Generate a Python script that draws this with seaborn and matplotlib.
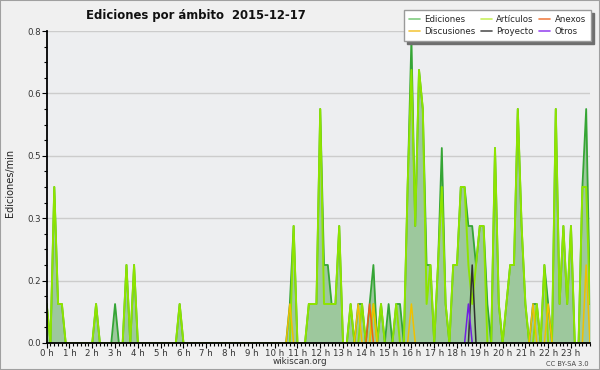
import numpy as np
import pandas as pd
import matplotlib
matplotlib.use('Agg')
import matplotlib.pyplot as plt
import seaborn as sns
from matplotlib.lines import Line2D
from matplotlib.patches import Rectangle

# --- data: edits per minute, 10-minute bins (6 per hour) ---
ediciones = [
    0.1, 0, 0.4, 0.1, 0.1, 0,        # 0 h
    0, 0, 0, 0, 0, 0,                # 1 h
    0, 0.1, 0, 0, 0, 0,              # 2 h
    0.1, 0, 0, 0.2, 0, 0.2,          # 3 h
    0, 0, 0, 0, 0, 0,                # 4 h
    0, 0, 0, 0, 0, 0.1,              # 5 h
    0, 0, 0, 0, 0, 0,                # 6 h
    0, 0, 0, 0, 0, 0,                # 7 h
    0, 0, 0, 0, 0, 0,                # 8 h
    0, 0, 0, 0, 0, 0,                # 9 h
    0, 0, 0, 0, 0.1, 0.3,            # 10 h
    0, 0, 0, 0.1, 0.1, 0.1,          # 11 h
    0.6, 0.2, 0.2, 0.1, 0.1, 0.3,    # 12 h
    0, 0, 0.1, 0, 0.1, 0.1,          # 13 h
    0, 0.1, 0.2, 0, 0.1, 0,          # 14 h
    0.1, 0, 0.1, 0.1, 0, 0.4,        # 15 h
    0.78, 0.3, 0.7, 0.6, 0.2, 0.2,   # 16 h
    0, 0.2, 0.5, 0.1, 0, 0.2,        # 17 h
    0.2, 0.4, 0.4, 0.3, 0.3, 0.2,    # 18 h
    0.3, 0.3, 0.1, 0, 0.5, 0.1,      # 19 h
    0, 0.1, 0.2, 0.2, 0.6, 0.3,      # 20 h
    0.1, 0, 0.1, 0.1, 0, 0.2,        # 21 h
    0.1, 0, 0.6, 0.1, 0.3, 0.1,      # 22 h
    0.3, 0, 0, 0.4, 0.6, 0.1,        # 23 h
]

articulos = [
    0.1, 0, 0.4, 0.1, 0.1, 0,        # 0 h
    0, 0, 0, 0, 0, 0,                # 1 h
    0, 0.1, 0, 0, 0, 0,              # 2 h
    0, 0, 0, 0.2, 0, 0.2,            # 3 h
    0, 0, 0, 0, 0, 0,                # 4 h
    0, 0, 0, 0, 0, 0.1,              # 5 h
    0, 0, 0, 0, 0, 0,                # 6 h
    0, 0, 0, 0, 0, 0,                # 7 h
    0, 0, 0, 0, 0, 0,                # 8 h
    0, 0, 0, 0, 0, 0,                # 9 h
    0, 0, 0, 0, 0, 0.3,              # 10 h
    0, 0, 0, 0.1, 0.1, 0.1,          # 11 h
    0.6, 0.1, 0.1, 0.1, 0.1, 0.3,    # 12 h
    0, 0, 0.1, 0, 0, 0.1,            # 13 h
    0, 0, 0.1, 0, 0.1, 0,            # 14 h
    0, 0, 0.1, 0, 0, 0.4,            # 15 h
    0.7, 0.3, 0.7, 0.6, 0.1, 0.2,    # 16 h
    0, 0.2, 0.4, 0.1, 0, 0.2,        # 17 h
    0.2, 0.4, 0.4, 0.2, 0.1, 0.2,    # 18 h
    0.3, 0.3, 0, 0, 0.5, 0.1,        # 19 h
    0, 0.1, 0.2, 0.2, 0.6, 0.3,      # 20 h
    0.1, 0, 0, 0.1, 0, 0.2,          # 21 h
    0, 0, 0.6, 0.1, 0.3, 0.1,        # 22 h
    0.3, 0, 0, 0.4, 0.4, 0.1,        # 23 h
]

# sparse series: bin index -> value
discusiones_bins = [64, 82, 86, 96, 128, 132, 142]
discusiones_vals = [0.1, 0.1, 0.1, 0.1, 0.1, 0.1, 0.2]
anexos_bins = [85]
anexos_vals = [0.1]
proyecto_bins = [112]
proyecto_vals = [0.2]
otros_bins = [111]
otros_vals = [0.1]

hour_labels = [f"{h} h" for h in range(24)]
ytick_labels = ["0.0", "0.2", "0.3", "0.5", "0.6", "0.8"]

legend_names = ["Ediciones", "Discusiones", "Artículos", "Proyecto", "Anexos", "Otros"]
legend_colors = ["#80cc80", "#f5c842", "#c8f060", "#555555", "#f08048", "#9a4cf0"]

# --- build frame ---
n_bins = len(ediciones)
df = pd.DataFrame({
    "hora": np.arange(n_bins) / 6,
    "ediciones": ediciones,
    "articulos": articulos,
})


def sparse_series(bins, vals):
    s = pd.Series(0.0, index=range(n_bins))
    s[bins] = vals
    keep = (s > 0) | (s.shift(1, fill_value=0) > 0) | (s.shift(-1, fill_value=0) > 0)
    return s.where(keep)


# --- plot ---
sns.set_style("white")
plt.rcParams["font.family"] = ["DejaVu Sans"]

fig = plt.figure(figsize=(6, 3.7), dpi=100, facecolor="#f0f0f0")
ax = fig.add_axes([0.0778, 0.073, 0.9055, 0.8432])
ax.set_facecolor("#edeef0")
ax.set_axisbelow(True)

ax.fill_between(df["hora"], df["ediciones"], color="#9dc89d", lw=0, zorder=1)
sns.lineplot(data=df, x="hora", y="ediciones", color="#35a535", lw=1.3, ax=ax, zorder=3)
sns.lineplot(data=df, x="hora", y="articulos", color="#8ee400", lw=1.4, ax=ax, zorder=4)

for bins, vals, col in [
    (discusiones_bins, discusiones_vals, "#f0c000"),
    (anexos_bins, anexos_vals, "#f06010"),
    (proyecto_bins, proyecto_vals, "#303030"),
    (otros_bins, otros_vals, "#7020e0"),
]:
    ax.plot(df["hora"], sparse_series(bins, vals), color=col, lw=1.1, zorder=5)

ax.set_xlim(0, (n_bins - 1) / 6)
ax.set_ylim(0, 0.8)
ax.set_xticks(range(24))
ax.set_xticklabels(hour_labels)
ax.set_xticks(df["hora"], minor=True)
ax.set_yticks(np.linspace(0, 0.8, len(ytick_labels)))
ax.set_yticklabels(ytick_labels)
ax.set_yticks(np.linspace(0, 0.8, 21), minor=True)
ax.set_xlabel("")
ax.set_ylabel("")

ax.yaxis.grid(True, color="#cccccc", lw=1)
ax.xaxis.grid(False)
for side in ["top", "right"]:
    ax.spines[side].set_visible(False)
for side in ["left", "bottom"]:
    ax.spines[side].set_color("black")
    ax.spines[side].set_linewidth(1.3)
    ax.spines[side].set_zorder(6)

ax.tick_params(which="major", direction="out", length=3.5, width=0.8, color="black",
               labelsize=6.2, labelcolor="#333333", pad=0.5, left=True, bottom=True)
ax.tick_params(which="minor", direction="out", length=2, width=0.8, color="black",
               left=True, bottom=True)

fig.text(86 / 600, 1 - 15 / 370, "Ediciones por ámbito  2015-12-17",
         fontsize=8.4, fontweight="bold", ha="left", va="center", color="#111111")
fig.text(10 / 600, 1 - 183 / 370, "Ediciones/min", rotation=90,
         fontsize=7, ha="center", va="center", color="#222222")
fig.text(300 / 600, 1 - 362 / 370, "wikiscan.org", fontsize=6.3,
         ha="center", va="center", color="#333333")
fig.text(589 / 600, 1 - 364 / 370, "CC BY-SA 3.0", fontsize=4.8,
         ha="right", va="center", color="#444444")

handles = [Line2D([0], [0], color=c, lw=1.2) for c in legend_colors]
fig.legend(handles, legend_names, ncol=3, loc="upper right",
           bbox_to_anchor=(591 / 600, 1 - 10 / 370), fontsize=6.2,
           frameon=True, fancybox=False, framealpha=1,
           shadow={"color": "#6e6e6e", "alpha": 1},
           edgecolor="#9a9a9a", facecolor="white",
           handlelength=1.3, handletextpad=0.5, columnspacing=0.6,
           labelspacing=0.35, borderpad=0.6, borderaxespad=0)

fig.patches.append(Rectangle((0, 0), 1, 1, transform=fig.transFigure, fill=False,
                             edgecolor="#a0a0a0", lw=1.5))

fig.savefig("out.png", dpi=100, facecolor=fig.get_facecolor())
